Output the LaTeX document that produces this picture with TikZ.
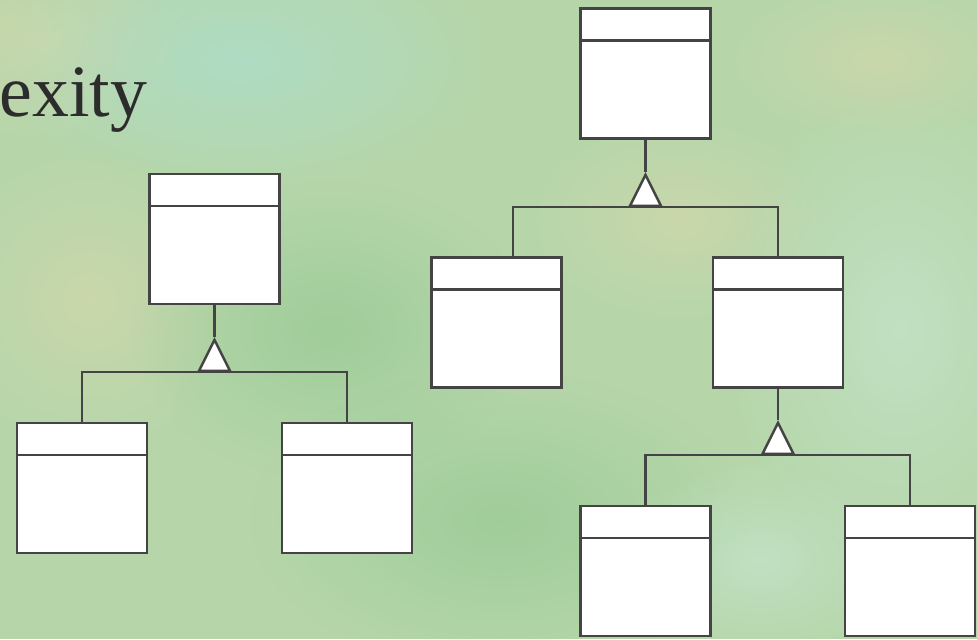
\documentclass[tikz,border=0pt]{standalone}
\usepackage{fontspec}
\setmainfont{Liberation Serif}
\usepackage{tikz}
\usetikzlibrary{positioning,shapes.geometric,fadings}
\definecolor{ink}{HTML}{2C2C2C}
\definecolor{umlline}{HTML}{444444}
\definecolor{paper}{HTML}{B6D6AA}
\definecolor{moss}{HTML}{98CA94}
\definecolor{sea}{HTML}{ACDECC}
\definecolor{straw}{HTML}{D0D8AA}
\definecolor{mint}{HTML}{C4E4CA}
\tikzfading[name=softspot, inner color=transparent!25, outer color=transparent!100]

\begin{document}
\begin{tikzpicture}[x=0.02cm, y=-0.02cm,
  classbox/.style={draw=umlline, fill=white, line width=1.4pt, inner sep=0pt,
    minimum width=2.6cm, minimum height=2.6cm,
    path picture={\draw[umlline, line width=1.4pt]
      ([yshift=-0.64cm]path picture bounding box.north west) --
      ([yshift=-0.64cm]path picture bounding box.north east);}},
  gentri/.style={isosceles triangle, isosceles triangle stretches, shape border rotate=90,
    draw=umlline, fill=white, line width=1.4pt, inner sep=0pt,
    minimum width=0.62cm, minimum height=0.62cm, anchor=lower side},
  link/.style={umlline, line width=1.4pt}]
  % Slide background
  \useasboundingbox (0,0) rectangle (977,639);
  \fill[paper] (0,0) rectangle (977,639);
  \fill[straw, path fading=softspot] (40,40) ellipse (3cm and 2cm);
  \fill[sea, path fading=softspot] (240,60) ellipse (5cm and 2.6cm);
  \fill[straw, path fading=softspot] (90,300) ellipse (3cm and 3cm);
  \fill[moss, path fading=softspot] (330,330) ellipse (4cm and 3cm);
  \fill[moss, path fading=softspot] (500,520) ellipse (5cm and 3cm);
  \fill[straw, path fading=softspot] (680,220) ellipse (3cm and 2cm);
  \fill[mint, path fading=softspot] (900,330) ellipse (3.5cm and 5cm);
  \fill[mint, path fading=softspot] (760,560) ellipse (3cm and 2cm);
  \fill[straw, path fading=softspot] (880,60) ellipse (3cm and 1.6cm);

  % Title (cut off at the left)
  \node[font=\fontsize{42}{50}\selectfont, text=ink, anchor=base west, inner sep=0pt] (title) at (-1,116) {exity};

  % Left hierarchy
  \node[classbox] (lbase) at (214.5,239) {};
  \node[classbox] (lsubA) at (82,488) {};
  \node[classbox] (lsubB) at (347,488) {};
  \node[gentri] (ltri) at (214.5,372) {};
  \draw[link] (lbase.south) -- (ltri.apex);
  \draw[link] (lsubA.north) |- (ltri.lower side) -| (lsubB.north);

  % Right hierarchy
  \node[classbox] (rtop) at (645.5,73.5) {};
  \node[classbox] (rmidA) at (496.5,322.5) {};
  \node[classbox] (rmidB) at (778,322.5) {};
  \node[classbox] (rlowA) at (645.5,571) {};
  \node[classbox] (rlowB) at (910,571) {};
  \node[gentri] (rtri) at (645.5,207) {};
  \node[gentri] (rtriB) at (778,455) {};
  \draw[link] (rtop.south) -- (rtri.apex);
  \draw[link] ([xshift=0.33cm]rmidA.north) |- (rtri.lower side) -| (rmidB.north);
  \draw[link] (rmidB.south) -- (rtriB.apex);
  \draw[link] (rlowA.north) |- (rtriB.lower side) -| (rlowB.north);
\end{tikzpicture}
\end{document}
